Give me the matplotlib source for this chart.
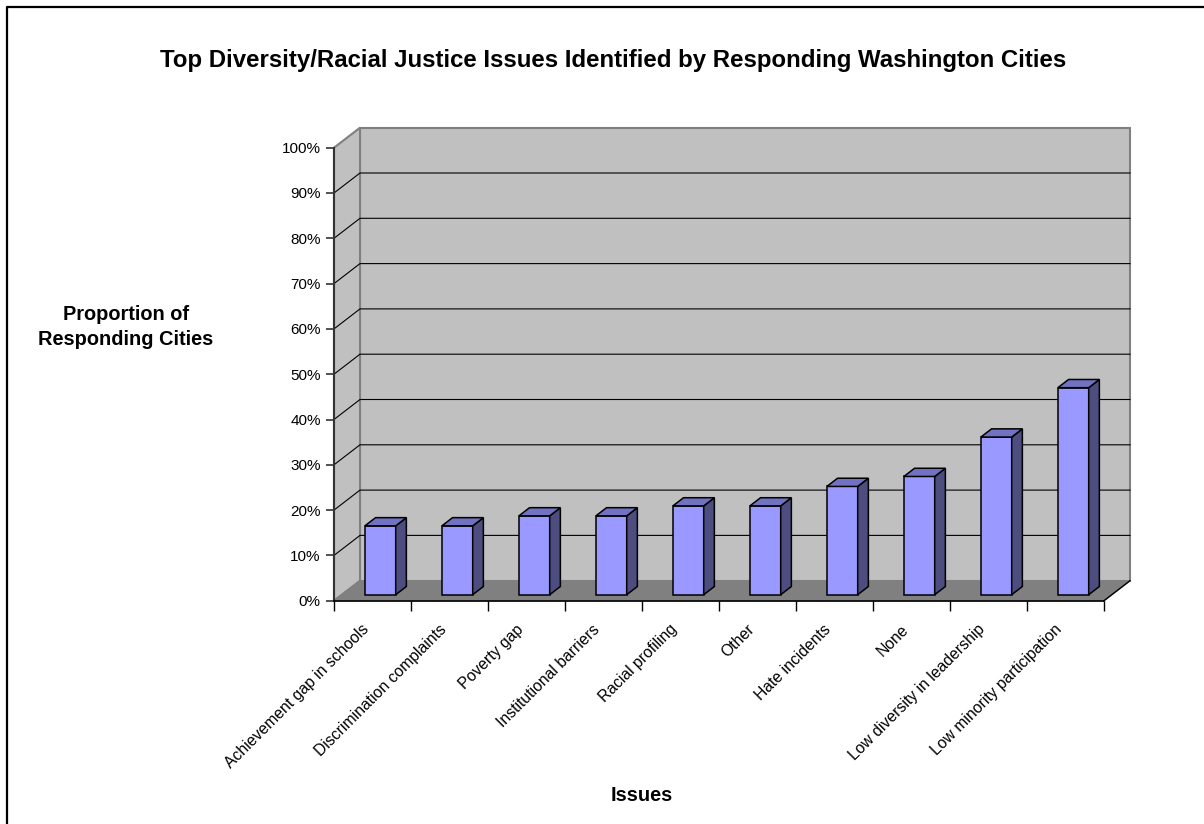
import matplotlib
matplotlib.use("Agg")
import matplotlib.pyplot as plt
import numpy as np
from matplotlib.patches import Polygon
from matplotlib.lines import Line2D
from matplotlib.ticker import PercentFormatter
import matplotlib.transforms as mtransforms

plt.rcParams['font.family'] = ['Liberation Sans', 'DejaVu Sans']

# ---- data ----
categories = ["Achievement gap in schools", "Discrimination complaints", "Poverty gap",
              "Institutional barriers", "Racial profiling", "Other", "Hate incidents",
              "None", "Low diversity in leadership", "Low minority participation"]
values = [15.2, 15.2, 17.4, 17.4, 19.6, 19.6, 23.9, 26.1, 34.8, 45.7]
yticks = list(range(0, 101, 10))

title = "Top Diversity/Racial Justice Issues Identified by Responding Washington Cities"
ylabel = "Proportion of\nResponding Cities"
xlabel = "Issues"

# ---- figure / axes ----
W, H = 1204, 824
fig = plt.figure(figsize=(W / 100, H / 100), dpi=100)
ax_l, ax_r, ax_b, ax_t = 334, 1104, 600.7, 147.7
ax = fig.add_axes([ax_l / W, (H - ax_b) / H, (ax_r - ax_l) / W, (ax_b - ax_t) / H])
ax.set_xlim(0, len(categories))
ax.set_ylim(0, 100)
ax.patch.set_visible(False)

# oblique depth projection (pixels for full depth -> data units)
px_per_x = (ax_r - ax_l) / len(categories)
px_per_y = (ax_b - ax_t) / 100.0
DX = 26 / px_per_x
DY = 20 / px_per_y

def P(x, y, d):
    return (x + d * DX, y + d * DY)

N = len(categories)
wall = '#C0C0C0'
edge_gray = '#808080'

# back wall
ax.add_patch(Polygon([P(0, 0, 1), P(N, 0, 1), P(N, 100, 1), P(0, 100, 1)],
                     closed=True, facecolor=wall, edgecolor=edge_gray, lw=1.5,
                     clip_on=False, zorder=0.5))
# left side wall
ax.add_patch(Polygon([P(0, 0, 0), P(0, 0, 1), P(0, 100, 1), P(0, 100, 0)],
                     closed=True, facecolor=wall, edgecolor=edge_gray, lw=1.5,
                     clip_on=False, zorder=0.5))
# floor
ax.add_patch(Polygon([P(0, 0, 0), P(N, 0, 0), P(N, 0, 1), P(0, 0, 1)],
                     closed=True, facecolor=edge_gray, edgecolor=edge_gray, lw=1.0,
                     clip_on=False, zorder=0.6))
# gridlines
for v in yticks[1:-1]:
    x0, y0 = P(0, v, 0)
    x1, y1 = P(0, v, 1)
    x2, y2 = P(N, v, 1)
    ax.plot([x0, x1, x2], [y0, y1, y2], color='black', lw=0.8,
            clip_on=False, zorder=0.7)
# right floor edge
fx0, fy0 = P(N, 0, 0)
fx1, fy1 = P(N, 0, 1)
ax.plot([fx0, fx1], [fy0, fy1], color='black', lw=1.0, clip_on=False, zorder=0.8)

# bars
D0, D1 = 0.30, 0.71
bw = 0.40
xc = np.arange(N) + 0.5
front_c, top_c, side_c = '#9999FF', '#7272C2', '#4D4D80'
ax.bar(xc + D0 * DX, values, width=bw, bottom=D0 * DY, color=front_c,
       edgecolor='black', linewidth=1.1, zorder=3)
for x, h in zip(xc, values):
    xl, xr = x - bw / 2, x + bw / 2
    ax.add_patch(Polygon([P(xr, 0, D0), P(xr, 0, D1), P(xr, h, D1), P(xr, h, D0)],
                         closed=True, facecolor=side_c, edgecolor='black', lw=1.1,
                         zorder=3, clip_on=False))
    ax.add_patch(Polygon([P(xl, h, D0), P(xr, h, D0), P(xr, h, D1), P(xl, h, D1)],
                         closed=True, facecolor=top_c, edgecolor='black', lw=1.1,
                         zorder=3, clip_on=False))

# spines
for s in ['top', 'right']:
    ax.spines[s].set_visible(False)
ax.spines['left'].set_color('#333333')
ax.spines['left'].set_linewidth(1.5)
ax.spines['bottom'].set_color('black')
ax.spines['bottom'].set_linewidth(1.2)
ax.spines['left'].set_zorder(4)
ax.spines['bottom'].set_zorder(4)

# y axis
ax.set_yticks(yticks)
ax.yaxis.set_major_formatter(PercentFormatter(decimals=0))
ax.tick_params(axis='y', direction='out', length=6, width=1.2, pad=3.5,
               labelsize=11, color='#333333')

# x axis
ax.set_xticks(np.arange(N + 1))
ax.set_xticklabels([''] * (N + 1))
ax.tick_params(axis='x', which='major', direction='out', length=7.2, width=1.0)
ax.set_xticks(xc, minor=True)
ax.set_xticklabels(categories, minor=True, rotation=45, ha='right',
                   rotation_mode='anchor', fontsize=11.3)
ax.tick_params(axis='x', which='minor', length=0, pad=15)
off = mtransforms.ScaledTranslation(-11 / 100, 0, fig.dpi_scale_trans)
for lab in ax.get_xticklabels(minor=True):
    lab.set_transform(lab.get_transform() + off)

# texts
fig.text(613 / W, 1 - 67.3 / H, title, ha='center', va='baseline',
         fontsize=17.3, fontweight='bold')
fig.text(126 / W, 1 - 327 / H, ylabel, ha='center', va='center',
         fontsize=14.4, fontweight='bold', multialignment='center', linespacing=1.4)
fig.text(642 / W, 1 - 800.7 / H, xlabel, ha='center', va='baseline',
         fontsize=14.4, fontweight='bold')

# outer frame (top and left edges visible)
fig.add_artist(Line2D([7 / W, 7 / W, 1.0], [0.0, 1 - 7 / H, 1 - 7 / H],
                      transform=fig.transFigure, color='black', lw=1.6))

fig.savefig('out.png', dpi=100)
